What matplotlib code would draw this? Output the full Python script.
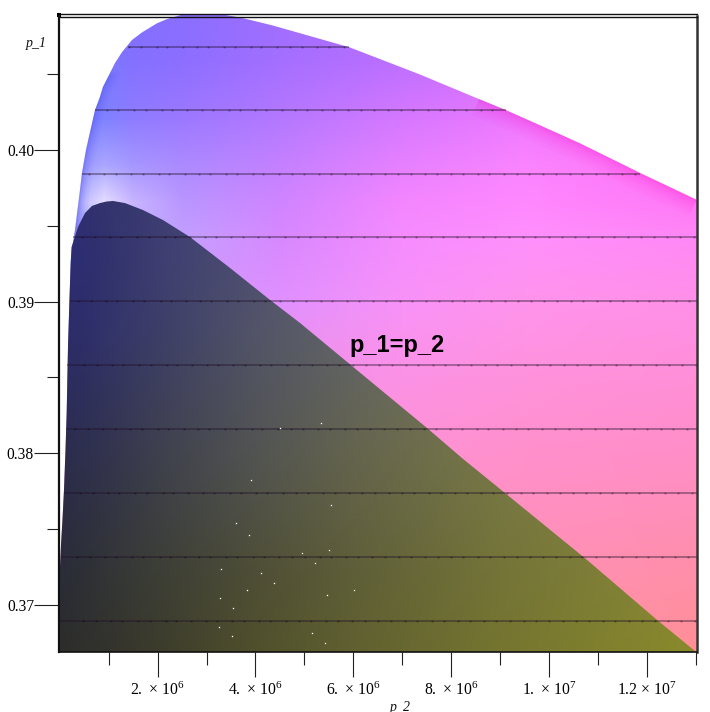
import numpy as np
import matplotlib
matplotlib.use("Agg")
import matplotlib.pyplot as plt
from matplotlib.colors import to_rgba
from matplotlib.image import NonUniformImage
from matplotlib.patches import Polygon

plt.rcParams['font.family'] = ['Liberation Serif', 'DejaVu Serif']
plt.rcParams['mathtext.fontset'] = 'custom'
plt.rcParams['mathtext.rm'] = 'Liberation Serif'
plt.rcParams['mathtext.it'] = 'Liberation Serif:italic'
plt.rcParams['mathtext.default'] = 'regular'

# Region outlines (p_2 in millions, p_1)
left_x = [-0.02, -0.02, 0.0, 0.025, 0.055, 0.086, 0.117, 0.141, 0.168, 0.198, 0.223, 0.243, 0.270]
left_y = [0.36688, 0.37100, 0.37217, 0.37395, 0.37559, 0.37757, 0.38021, 0.38265, 0.38701, 0.39011,
          0.39255, 0.39360, 0.39387]
upper_x = [0.311, 0.413, 0.454, 0.536, 0.72, 0.82, 0.883, 0.985, 1.128, 1.272, 1.476, 1.68, 1.987, 2.191,
           2.52, 2.9, 3.31, 3.68, 4.35, 5.92, 7.35, 8.57, 9.12, 9.94, 10.62, 11.86, 13.02, 13.02]
upper_y = [0.39472, 0.39736, 0.39848, 0.40000, 0.40263, 0.40349, 0.40416, 0.40481, 0.40574, 0.40646,
           0.40726, 0.40776, 0.40836, 0.40864, 0.40895, 0.40900, 0.40895, 0.40875, 0.40822, 0.40678,
           0.40500, 0.40336, 0.40263, 0.40145, 0.40046, 0.39849, 0.39671, 0.36688]
lower_x = [0.372, 0.515, 0.658, 0.822, 0.95, 1.087, 1.333, 1.701, 2.110, 2.661, 3.479, 4.297, 4.910, 5.973,
           7.506, 8.242, 8.998, 10.776, 12.207, 13.02]
lower_y = [0.39492, 0.39584, 0.39631, 0.39650, 0.39660, 0.39664, 0.39650, 0.39604, 0.39538, 0.39426,
           0.39222, 0.39011, 0.38859, 0.38575, 0.38166, 0.37962, 0.37764, 0.37296, 0.36900, 0.36685]

# Surface colours on control grids
upper_grid_x = [0.2, 0.5, 0.9, 1.5, 2.5, 4.5, 7, 9.5, 13]
upper_grid_y = [0.367, 0.380, 0.390, 0.394, 0.3965, 0.399, 0.402, 0.406, 0.409]
upper_colors = [
    ['#ff90a8', '#ff90a8', '#ff90a8', '#ff90a8', '#ff90a8', '#ff90a8', '#ff90a8', '#ff90a4', '#ff8f96'],
    ['#ff92cc', '#ff92cc', '#ff92cc', '#ff92cc', '#ff92cc', '#ff92d0', '#ff92d4', '#ff90cc', '#ff8ec8'],
    ['#8080f0', '#8888f0', '#a0a0f8', '#b0a8ff', '#d098f8', '#e090ff', '#f892f8', '#ff94ec', '#ff90e8'],
    ['#8888f0', '#a0a0f8', '#c0c0ff', '#c0b0ff', '#c4a0ff', '#d888ff', '#f68cff', '#ff90fc', '#ff88f6'],
    ['#9c9cff', '#c4c0ff', '#e6deff', '#c8b4ff', '#b996ff', '#d084ff', '#f486ff', '#ff88ff', '#ff78f6'],
    ['#8c8cff', '#9a9aff', '#aaa6ff', '#a596ff', '#ac8aff', '#c480ff', '#e680ff', '#fa84ff', '#ff70f4'],
    ['#7c80ff', '#7c80ff', '#7f82ff', '#8e7cff', '#9c78ff', '#b478ff', '#d678ff', '#f078ff', '#ff60f0'],
    ['#7878ff', '#7878ff', '#7a78ff', '#8470ff', '#8c6eff', '#a46eff', '#bc6eff', '#d46eff', '#f070ff'],
    ['#7878ff', '#7878ff', '#7a78ff', '#8470ff', '#8a6eff', '#a06eff', '#b66eff', '#c86eff', '#e070ff'],
]
lower_grid_x = [0, 0.5, 1, 2, 4, 6, 9, 13]
lower_grid_y = [0.367, 0.372, 0.380, 0.388, 0.393, 0.397]
lower_colors = [
    ['#2c2c2a', '#30302c', '#33332c', '#3c3c2c', '#50502c', '#606030', '#757530', '#8a8a2c'],
    ['#2a2c38', '#2e3036', '#333536', '#3c3e36', '#4e4e36', '#5e5e38', '#747438', '#888838'],
    ['#2b2c4e', '#2e304e', '#33344e', '#3e404e', '#525452', '#64644e', '#787848', '#888840'],
    ['#2c2c6a', '#2e2e6a', '#33346a', '#3c3e68', '#525468', '#626468', '#7a7a60', '#888850'],
    ['#2c2c72', '#2e2e72', '#32326e', '#3e3e72', '#4e4e72', '#70706c', '#7a7a60', '#888850'],
    ['#2c2c72', '#30306e', '#34346e', '#3c3c72', '#4e4e72', '#70706c', '#7a7a60', '#888850'],
]

# Contour lines: level, first and last p_2
contour_levels = [0.40678, 0.40263, 0.39845, 0.39428, 0.39004, 0.38582, 0.38160, 0.37738, 0.37316, 0.36893]
contour_start = [1.388, 0.72, 0.454, 0.28, 0.209, 0.154, 0.127, 0.086, 0.02, 0.0]
contour_end = [5.92, 9.12, 11.86, 13.02, 13.02, 13.02, 13.02, 13.02, 13.02, 13.02]
contour_shift = [0.00, 0.10, 0.04, 0.16, 0.07, 0.20, 0.02, 0.12, 0.05, 0.18]
contour_dots = [0.3, 0.56, 0.87, 1.1, 1.42, 1.66, 1.99, 2.2, 2.51, 2.8, 3.03, 3.35, 3.58, 3.9, 4.12, 4.44,
                4.7, 4.96, 5.26, 5.5, 5.8, 6.05, 6.33, 6.6, 6.88, 7.13, 7.42, 7.68, 7.95, 8.2, 8.5, 8.74,
                9.03, 9.3, 9.56, 9.83, 10.1, 10.38, 10.63, 10.92, 11.17, 11.45, 11.72, 11.98, 12.26, 12.52, 12.8]

# White specks on the lower surface
speck_x = [5.345, 4.508, 3.915, 5.551, 3.608, 3.874, 5.510, 4.958, 5.223, 3.301, 4.119, 4.385, 3.833, 6.020,
           5.468, 3.281, 3.547, 3.260, 5.162, 3.526, 5.428]
speck_y = [0.38197, 0.38164, 0.37821, 0.37655, 0.37538, 0.37458, 0.37359, 0.37340, 0.37274, 0.37234, 0.37208,
           0.37142, 0.37096, 0.37096, 0.37063, 0.37043, 0.36977, 0.36852, 0.36812, 0.36792, 0.36746]

x_major = [2, 4, 6, 8, 10, 12]
x_minor = [1, 3, 5, 7, 9, 11, 13]
x_labels = [r'$2.\,\times\,10^{6}$', r'$4.\,\times\,10^{6}$', r'$6.\,\times\,10^{6}$', r'$8.\,\times\,10^{6}$',
            r'$1.\,\times\,10^{7}$', r'$1.2\,\times\,10^{7}$']
y_major = [0.37, 0.38, 0.39, 0.40]
y_minor = [0.375, 0.385, 0.395, 0.405]
y_labels = ['0.37', '0.38', '0.39', '0.40']

W, H = 710, 712
fig = plt.figure(figsize=(W / 100, H / 100), dpi=100)
ax = fig.add_axes([59 / W, 1 - 652 / H, 637.5 / W, 635.5 / H])
ax.set_xlim(-0.016, 13.015)
ax.set_ylim(0.36688, 0.40881)


def surface(gx, gy, colors, poly_x, poly_y, z):
    rgba = np.array([[to_rgba(c) for c in row] for row in colors])
    im = NonUniformImage(ax, interpolation='bilinear', zorder=z)
    im.set_data(np.array(gx, float), np.array(gy, float), (rgba * 255).astype(np.uint8))
    ax.add_image(im)
    patch = Polygon(np.column_stack([poly_x, poly_y]), closed=True, transform=ax.transData,
                    facecolor='none', edgecolor='none')
    ax.add_patch(patch)
    im.set_clip_path(patch)
    return patch


up_patch = surface(upper_grid_x, upper_grid_y, upper_colors,
                   left_x + upper_x, left_y + upper_y, 1)
surface(lower_grid_x, lower_grid_y, lower_colors,
        left_x + lower_x, left_y + lower_y, 3)

# Darker rim along the upper surface edge
rim_x = np.array(upper_x[21:27])
rim_y = np.array(upper_y[21:27])
for lw, a in [(26, 0.035), (21, 0.04), (16, 0.05), (12, 0.05), (8, 0.06), (5, 0.07), (2.5, 0.09)]:
    ln, = ax.plot(rim_x, rim_y, color='#ff20d0', lw=lw, alpha=a, zorder=2, solid_capstyle='butt')
    ln.set_clip_path(up_patch)
rim_x2 = np.array(left_x[-1:] + upper_x[:8])
rim_y2 = np.array(left_y[-1:] + upper_y[:8])
for lw, a in [(14, 0.05), (10, 0.07), (7, 0.09), (4, 0.12), (2, 0.15)]:
    ln, = ax.plot(rim_x2, rim_y2, color='#5050f8', lw=lw, alpha=a, zorder=2)
    ln.set_clip_path(up_patch)

dots = np.array(contour_dots)
for lev, a, b, s in zip(contour_levels, contour_start, contour_end, contour_shift):
    ax.plot([a, b], [lev, lev], color='#201028', lw=1.1, alpha=0.5, zorder=5, solid_capstyle='butt')
    dx = dots + s
    dx = dx[(dx > a) & (dx < b)]
    ax.plot(dx, np.full(dx.shape, lev), ls='none', marker='s', ms=1.3, mew=0, color='#000000', alpha=0.35, zorder=5)

ax.plot(speck_x, speck_y, ls='none', marker='s', ms=0.95, mew=0, color='white', zorder=6)

ax.set_xticks(x_major)
ax.set_xticklabels(x_labels)
ax.set_xticks(x_minor, minor=True)
ax.set_yticks(y_major)
ax.set_yticklabels(y_labels)
ax.set_yticks(y_minor, minor=True)
ax.tick_params(axis='both', which='major', length=18, width=0.8, color='#222222')
ax.tick_params(axis='both', which='minor', length=9, width=0.8, color='#222222')
ax.tick_params(axis='x', which='major', pad=3.5, labelsize=11.3)
ax.tick_params(axis='y', which='major', pad=0, labelsize=11.2)

for name, lw, col in [('left', 1.6, '#111111'), ('right', 1.8, '#333333'), ('top', 1.0, '#111111'),
                      ('bottom', 1.2, '#111111')]:
    ax.spines[name].set_linewidth(lw)
    ax.spines[name].set_color(col)
    ax.spines[name].set_zorder(8)

# Double top rule and corner mark of the frame
ax.plot([0, 1], [1.0039, 1.0039], transform=ax.transAxes, color='#111111', lw=1.0, clip_on=False, zorder=8)
ax.plot([0], [1.002], transform=ax.transAxes, marker='s', ms=3, mew=0, color='black', clip_on=False, zorder=8)

fig.text(36 / W, 1 - 43 / H, 'p_1', style='italic', fontsize=10, ha='center', va='center', color='#111111')
fig.text(400.5 / W, 1 - 707 / H, 'p_2', style='italic', fontsize=10, ha='center', va='center', color='#111111')
fig.text(397 / W, 1 - 352 / H, 'p_1=p_2', family='Liberation Sans', weight='bold', fontsize=17,
         ha='center', va='baseline', color='black', zorder=10)

fig.savefig('out.png', dpi=100)
